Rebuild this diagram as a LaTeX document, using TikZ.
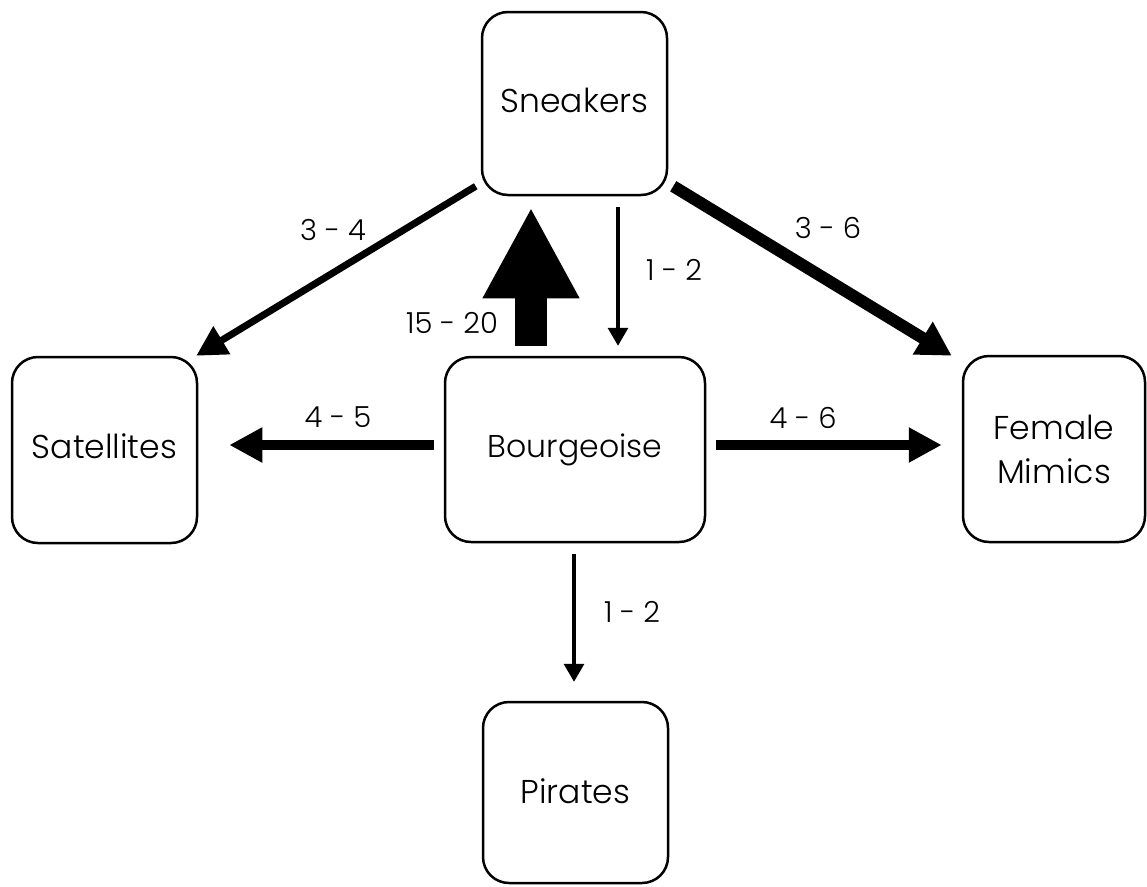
\documentclass[tikz,border=0pt]{standalone}
\usepackage{fontspec}
\setmainfont{Poppins Light}
\usetikzlibrary{arrows.meta}
\tikzset{
  box/.style={draw, line width=2.5pt, rounded corners=26pt, inner sep=0pt, align=center,
    font=\fontsize{33}{44}\selectfont},
  lbl/.style={inner sep=0pt, font=\fontsize{29}{36}\selectfont},
  thinarr/.style={line width=3.3pt, -{Triangle[length=18pt,width=20pt]}},
  medarr/.style={line width=7pt, -{Triangle[length=30pt,width=31pt]}},
  wtharr/.style={line width=10pt, -{Triangle[length=33pt,width=33pt]}},
  thkarr/.style={line width=12pt, -{Triangle[length=34pt,width=36pt]}},
  bigarr/.style={line width=32pt, -{Triangle[length=91pt,width=90pt]}},
}
\begin{document}
\begin{tikzpicture}[x=1pt,y=-1pt]
\useasboundingbox (0,0) rectangle (1147,886);
\node[box, minimum width=185pt, minimum height=183pt] (sneak) at (574.5,103.5) {\raisebox{6pt}{Sneakers}};
\node[box, minimum width=185pt, minimum height=186pt] (sat) at (104.5,450) {\raisebox{8pt}{Satellites}};
\node[box, minimum width=260pt, minimum height=185pt, font=\fontsize{31.5}{44}\selectfont] (bour) at (575,449.5) {\raisebox{2pt}{Bourgeoise}};
\node[box, minimum width=182pt, minimum height=186pt] (fem) at (1054,449) {Female\\Mimics};
\node[box, minimum width=185pt, minimum height=181pt] (pir) at (575.5,792.5) {\raisebox{2pt}{Pirates}};

\draw[medarr] ([shift={(-5,-10)}]sneak.south west) -- ([shift={(-2,0)}]sat.north east);
\draw[thkarr] ([shift={(5,-10)}]sneak.south east) -- ([shift={(-10,1)}]fem.north west);
\draw[bigarr] ([shift={(-44,-10)}]bour.north) -- ([shift={(-43.5,11)}]sneak.south);
\draw[thinarr] ([shift={(43.5,11)}]sneak.south) -- ([shift={(43,-10)}]bour.north);
\draw[wtharr] ([shift={(-10,-4.5)}]bour.west) -- ([shift={(31,-5)}]sat.east);
\draw[wtharr] ([shift={(10,-4.5)}]bour.east) -- ([shift={(-20,-4)}]fem.west);
\draw[thinarr] ([shift={(-1,11)}]bour.south) -- ([shift={(-1.5,-19)}]pir.north);

\node[lbl] (l34) at (333,230) {3 - 4};
\node[lbl] (l36) at (828,228) {3 - 6};
\node[lbl] (l1520) at (452,323) {15 - 20};
\node[lbl] (l12a) at (674,270) {1 - 2};
\node[lbl] (l45) at (338,417) {4 - 5};
\node[lbl] (l46) at (803,418) {4 - 6};
\node[lbl] (l12b) at (632,612) {1 - 2};
\end{tikzpicture}
\end{document}
